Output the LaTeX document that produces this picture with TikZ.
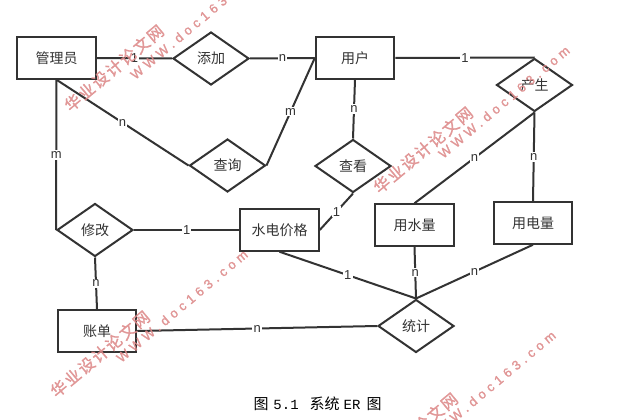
\documentclass[tikz,border=0pt]{standalone}
\usepackage{fontspec}
\usetikzlibrary{shapes.geometric}
\setmainfont{Liberation Sans}
\newfontfamily\cjk{Noto Sans CJK SC}
\newfontfamily\wmcjk[LetterSpace=12,FakeBold=1.5]{Noto Sans CJK SC}
\newfontfamily\wmlat[LetterSpace=33,FakeBold=1.5]{Liberation Sans}
\newfontfamily\capmono{Liberation Mono}
\definecolor{ink}{HTML}{333333}
\definecolor{wm}{HTML}{DE8A8A}
\tikzset{
  x=1pt,y=-1pt,
  ent/.style={draw=ink,line width=2pt,fill=white,minimum width=78.5pt,minimum height=41.5pt,inner sep=0pt,text=ink,font=\cjk\fontsize{14}{14}\selectfont},
  rel/.style={draw=ink,line width=2pt,fill=white,diamond,shape aspect=1.43,minimum width=76pt,minimum height=53pt,inner sep=0pt,text=ink,font=\cjk\fontsize{14}{14}\selectfont},
  lnk/.style={draw=ink,line width=2pt},
  card/.style={fill=white,inner sep=1.2pt,text=ink,font=\fontsize{13}{13}\selectfont},
  wmzh/.style={rotate=40,text=wm,opacity=.85,inner sep=0pt,font=\wmcjk\fontsize{16}{16}\selectfont},
  wmen/.style={rotate=40,text=wm,opacity=.85,inner sep=0pt,font=\wmlat\fontsize{13}{13}\selectfont},
}
\begin{document}
\begin{tikzpicture}
\useasboundingbox (0,0) rectangle (637,420);
\fill[white] (0,0) rectangle (637,420);
% nodes
\node[ent] (admin) at (56.5,58) {管理员};
\node[rel] (add) at (211,58.5) {添加};
\node[ent] (user) at (355,58) {用户};
\node[rel] (gen) at (534.5,85) {产生};
\node[rel] (query) at (227.5,165.5) {查询};
\node[rel] (view) at (353,166) {查看};
\node[rel] (edit) at (95,230) {修改};
\node[ent] (price) at (279.5,230) {水电价格};
\node[ent] (water) at (414.5,225) {用水量};
\node[ent] (power) at (533,223) {用电量};
\node[ent] (bill) at (97,331) {账单};
\node[rel] (stat) at (416,326) {统计};
% connectors
\draw[lnk] (admin.east) -- node[card] (c1) {1} (add.west);
\draw[lnk] (add.east) -- node[card] (c2) {n} (user.west);
\draw[lnk] (admin.south) -- node[card,pos=.5] (c3) {n} (query.west);
\draw[lnk] (admin.south) -- node[card] (c4) {m} (edit.west);
\draw[lnk] (query.east) -- node[card] (c5) {m} (user.west);
\draw[lnk] (user.south) -- node[card] (c6) {n} (view.north);
\draw[lnk] (user.east) -- node[card] (c7) {1} (gen.north);
\draw[lnk] (view.south) -- node[card] (c8) {1} (price.east);
\draw[lnk] (gen.south) -- node[card] (c9) {n} (water.north);
\draw[lnk] (gen.south) -- node[card] (c10) {n} (power.north);
\draw[lnk] (edit.east) -- node[card] (c11) {1} (price.west);
\draw[lnk] (edit.south) -- node[card] (c12) {n} (bill.north);
\draw[lnk] (bill.east) -- node[card] (c13) {n} (stat.west);
\draw[lnk] (price.south) -- node[card] (c14) {1} (stat.north);
\draw[lnk] (water.south) -- node[card] (c15) {n} (stat.north);
\draw[lnk] (power.south) -- node[card] (c16) {n} (stat.north);
% caption
\node[inner sep=0pt,text=black,font=\fontsize{15}{15}\selectfont] (cap) at (317.5,404) {\cjk 图\hspace{5pt}\capmono\fontsize{14}{14}\selectfont 5.1\hspace{11pt}\cjk\fontsize{15}{15}\selectfont 系统\hspace{4pt}\capmono\fontsize{14}{14}\selectfont ER\hspace{6pt}\cjk\fontsize{15}{15}\selectfont 图};
% watermarks
\begin{scope}
\clip (0,0) rectangle (637,420);
\node[wmzh] (w1a) at (114,68) {华业设计论文网};
\node[wmen] (w1b) at (196,23) {WWW.doc163.com};
\node[wmzh] (w2a) at (423,150) {华业设计论文网};
\node[wmen] (w2b) at (504,102) {WWW.doc163.com};
\node[wmzh] (w3a) at (100,354) {华业设计论文网};
\node[wmen] (w3b) at (182,306) {WWW.doc163.com};
\node[wmzh] (w4a) at (408,436) {华业设计论文网};
\node[wmen] (w4b) at (490,387) {WWW.doc163.com};
\end{scope}
\end{tikzpicture}
\end{document}
